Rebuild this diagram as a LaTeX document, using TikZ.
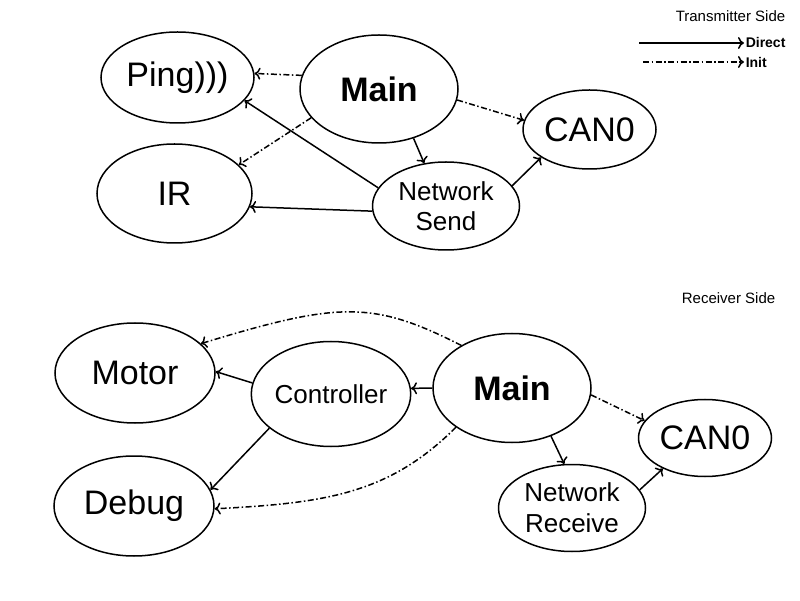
\documentclass[tikz,border=0pt]{standalone}
\usepackage{fontspec}
\setmainfont{Liberation Sans}
\usetikzlibrary{shapes.geometric,arrows.meta}

\begin{document}
\begin{tikzpicture}[x=1pt,y=1pt,line width=1.5pt,>={To[length=6pt,width=12pt]},
  blob/.style={ellipse,draw,inner sep=0pt},
  bigtext/.style={font=\fontsize{34}{36}\selectfont},
  smalltext/.style={font=\fontsize{26}{30}\selectfont,align=center},
  legtext/.style={font=\fontsize{15}{17}\selectfont,inner sep=1pt},
  initline/.style={->,dash pattern=on 6pt off 2.5pt on 1.5pt off 2.5pt},
  directline/.style={->}]
\useasboundingbox (0,0) rectangle (800,600);
\node[legtext,anchor=east] (tside) at (787,584) {Transmitter Side};
\coordinate (ds) at (639,557);
\coordinate (is) at (643,538);
\node[legtext,font=\fontsize{14}{16}\selectfont\bfseries,anchor=west] (direct) at (744,557) {Direct};
\node[legtext,font=\fontsize{14}{16}\selectfont\bfseries,anchor=west] (init) at (744,538) {Init};
\draw[directline] (ds) -- (direct.west);
\draw[initline] (is) -- (init.west);
\node[blob,bigtext,minimum width=153pt,minimum height=91pt] (ping) at (177.5,522.5) {Ping)))};
\node[blob,bigtext,font=\fontsize{34}{36}\selectfont\bfseries,minimum width=158pt,minimum height=108pt] (maint) at (379,511) {Main};
\node[blob,bigtext,minimum width=133pt,minimum height=79pt] (cant) at (589.5,470.5) {CAN0};
\node[blob,bigtext,minimum width=155pt,minimum height=99pt] (ir) at (174.5,406.5) {IR};
\node[blob,smalltext,minimum width=147pt,minimum height=88pt] (send) at (446,394) {Network\\Send};
\draw[initline] (maint.170) -- (ping.3);
\draw[initline] (maint.203) -- (ir.24);
\draw[initline] (maint.352) -- (cant.172);
\draw[directline] (maint.305) -- (send.117);
\draw[directline] (send.165) -- (ping.341);
\draw[directline] (send.184) -- (ir.350);
\draw[directline] (send.17) -- (cant.210);
% receiver side
\node[legtext,anchor=east] (rside) at (777,302) {Receiver Side};
\node[blob,bigtext,minimum width=160pt,minimum height=100pt] (motor) at (135,227) {Motor};
\node[blob,smalltext,minimum width=159pt,minimum height=105pt] (ctrl) at (331,206) {Controller};
\node[blob,bigtext,font=\fontsize{34}{36}\selectfont\bfseries,minimum width=158pt,minimum height=109pt] (mainr) at (512,212) {Main};
\node[blob,bigtext,minimum width=133pt,minimum height=77pt] (canr) at (705,162) {CAN0};
\node[blob,bigtext,minimum width=160pt,minimum height=100pt] (debug) at (134,94) {Debug};
\node[blob,smalltext,font=\fontsize{26}{31}\selectfont,minimum width=147pt,minimum height=87pt] (recv) at (572,92) {Network\\Receive};
\draw[initline] (mainr.140) .. controls +(153:99) and +(17:144) .. (motor.24);
\draw[initline] (mainr.215) .. controls +(225:95) and +(3:110) .. (debug.358);
\draw[initline] (mainr.355) -- (canr.164);
\draw[directline] (mainr.180) -- (ctrl.4);
\draw[directline] (mainr.309) -- (recv.100);
\draw[directline] (ctrl.172) -- (motor.1);
\draw[directline] (ctrl.209) -- (debug.12);
\draw[directline] (recv.15) -- (canr.216);
\end{tikzpicture}
\end{document}
